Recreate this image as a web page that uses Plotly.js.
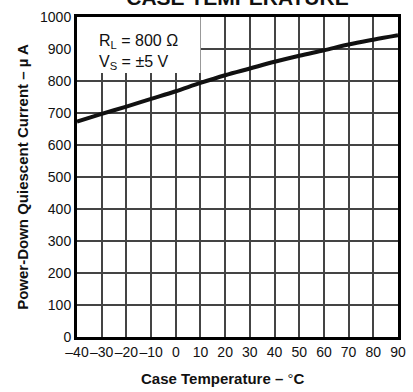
<!DOCTYPE html>
<html>
<head>
<meta charset="utf-8">
<script src="https://cdn.plot.ly/plotly-3.0.1.min.js"></script>
<style>html,body{margin:0;padding:0;background:#fff;}#chart{width:413px;height:392px;}</style>
</head>
<body>
<div id="chart"></div>
<script>
// Data
var caseTemperature = [-40, -30, -20, -10, 0, 10, 20, 30, 40, 50, 60, 70, 80, 90];
var quiescentCurrent = [673, 697, 720, 744, 768, 794, 818, 839, 860, 879, 896, 914, 929, 943];
var xTickValues = [-40, -30, -20, -10, 0, 10, 20, 30, 40, 50, 60, 70, 80, 90];
var xTickLabels = ['\u201340', '\u201330', '\u201320', '\u201310', '0', '10', '20', '30', '40', '50', '60', '70', '80', '90'];
var yTickValues = [0, 100, 200, 300, 400, 500, 600, 700, 800, 900, 1000];

var FONT = 'Liberation Sans, Arial, Helvetica, sans-serif';

var trace = {
  x: caseTemperature,
  y: quiescentCurrent,
  type: 'scatter',
  mode: 'lines',
  line: {color: '#111', width: 4, shape: 'spline'},
  hoverinfo: 'skip'
};

var layout = {
  width: 413,
  height: 392,
  margin: {l: 77, r: 15, t: 17, b: 55},
  paper_bgcolor: '#fff',
  plot_bgcolor: '#fff',
  showlegend: false,
  font: {family: FONT, color: '#111', size: 14},
  title: {
    text: '<b>CASE TEMPERATURE</b>',
    font: {family: FONT, size: 21, color: '#111'},
    x: 0.575, xanchor: 'center',
    y: 0.987, yanchor: 'bottom'
  },
  xaxis: {
    range: [-40, 90],
    tickmode: 'array',
    tickvals: xTickValues,
    ticktext: xTickLabels,
    tickangle: 0,
    showgrid: true,
    gridcolor: '#444',
    gridwidth: 2,
    zeroline: false,
    showline: true,
    linecolor: '#000',
    linewidth: 3,
    mirror: true,
    ticks: '',
    tickfont: {family: FONT, size: 14, color: '#111'}
  },
  yaxis: {
    range: [0, 1000],
    tickmode: 'array',
    tickvals: yTickValues,
    showgrid: true,
    gridcolor: '#444',
    gridwidth: 2,
    zeroline: false,
    showline: true,
    linecolor: '#000',
    linewidth: 3,
    mirror: true,
    ticks: '',
    tickfont: {family: FONT, size: 14, color: '#111'},
    title: {text: '<b>Power-Down Quiescent Current \u2013 \u00b5 A</b>', font: {family: FONT, size: 15, color: '#111'}, standoff: 8}
  },
  shapes: [{
    type: 'rect', xref: 'x', yref: 'y',
    x0: -40, x1: 10, y0: 825, y1: 1000,
    fillcolor: '#fff', line: {width: 0}, layer: 'above'
  }],
  annotations: [
    {xref: 'paper', yref: 'paper', x: 0.452, y: -0.131, xanchor: 'center', yanchor: 'middle', showarrow: false,
     text: '<b>Case Temperature \u2013 </b>\u00b0<b>C</b>', font: {family: FONT, size: 15, color: '#111'}},
    {xref: 'x', yref: 'y', x: -32, y: 922, xanchor: 'left', yanchor: 'middle', showarrow: false,
     text: 'R<sub>L</sub> = 800 \u03a9', font: {family: FONT, size: 16, color: '#111'}},
    {xref: 'x', yref: 'y', x: -32, y: 858, xanchor: 'left', yanchor: 'middle', showarrow: false,
     text: 'V<sub>S</sub> = \u00b15 V', font: {family: FONT, size: 16, color: '#111'}}
  ]
};

Plotly.newPlot('chart', [trace], layout, {staticPlot: true, displayModeBar: false});
</script>
</body>
</html>
